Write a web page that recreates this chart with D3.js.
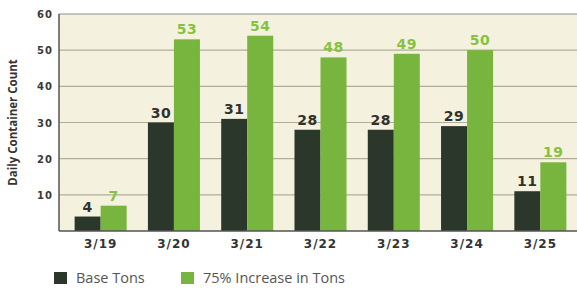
<!DOCTYPE html>
<html>
<head>
<meta charset="utf-8">
<script src="https://cdn.jsdelivr.net/npm/d3@7"></script>
<style>
  body { margin: 0; background: #fff; }
  text { font-family: "Open Sans", sans-serif; }
  .num { font-family: "DejaVu Sans", sans-serif; }
</style>
</head>
<body>
<script>
var days = ["3/19", "3/20", "3/21", "3/22", "3/23", "3/24", "3/25"];
var baseTons = [4, 30, 31, 28, 28, 29, 11];
var increasedTons = [7, 53, 54, 48, 49, 50, 19];
var yTicks = [10, 20, 30, 40, 50, 60];
var seriesNames = ["Base Tons", "75% Increase in Tons"];

var barColors = ["#2c372c", "#78b53e"];
var labelColors = ["#2f3330", "#86c23f"];

var W = 577, H = 289;
var plotLeft = 59, plotRight = 577, plotTop = 14, plotBottom = 231;

var svg = d3.select("body").append("svg")
    .attr("width", W).attr("height", H);

var y = d3.scaleLinear().domain([0, 60]).range([plotBottom, plotTop]);

var x0 = d3.scaleBand().domain(days)
    .range([64, plotRight])
    .paddingInner(0.29).paddingOuter(0.145);

var x1 = d3.scaleBand().domain([0, 1]).range([0, x0.bandwidth()]);

// plot background
svg.append("rect")
    .attr("x", plotLeft).attr("y", plotTop)
    .attr("width", plotRight - plotLeft).attr("height", plotBottom - plotTop)
    .attr("fill", "#f4f2de");

// gridlines
svg.append("g").selectAll("line").data(yTicks).enter().append("line")
    .attr("x1", plotLeft).attr("x2", plotRight)
    .attr("y1", function(d) { return y(d); })
    .attr("y2", function(d) { return y(d); })
    .attr("stroke", function(d) { return d == 60 ? "#8f8f88" : "#b0ad97"; })
    .attr("stroke-width", 1.2);

// y tick labels
svg.append("g").selectAll("text").data(yTicks).enter().append("text")
    .attr("class", "num")
    .attr("x", 53)
    .attr("y", function(d) { return y(d) + 4; })
    .attr("text-anchor", "end")
    .attr("font-size", 10).attr("font-weight", 700)
    .attr("letter-spacing", 1)
    .attr("fill", "#3a3a3a")
    .text(function(d) { return d; });

// y axis title
svg.append("text")
    .attr("transform", "translate(17," + ((plotTop + plotBottom) / 2) + ") rotate(-90)")
    .attr("text-anchor", "middle")
    .attr("font-size", 11.5).attr("font-weight", 700)
    .attr("fill", "#333")
    .text("Daily Container Count");

var rows = days.map(function(d, i) {
    return {day: d, values: [baseTons[i], increasedTons[i]]};
});

var groups = svg.append("g").selectAll("g").data(rows).enter().append("g")
    .attr("transform", function(d) { return "translate(" + x0(d.day) + ",0)"; });

groups.selectAll("rect").data(function(d) { return d.values; }).enter().append("rect")
    .attr("x", function(d, i) { return x1(i); })
    .attr("y", function(d) { return y(d); })
    .attr("width", x1.bandwidth())
    .attr("height", function(d) { return plotBottom - y(d); })
    .attr("fill", function(d, i) { return barColors[i]; });

groups.selectAll("text").data(function(d) { return d.values; }).enter().append("text")
    .attr("class", "num")
    .attr("x", function(d, i) { return x1(i) + x1.bandwidth() / 2; })
    .attr("y", function(d) { return y(d) - 5; })
    .attr("text-anchor", "middle")
    .attr("font-size", 14).attr("font-weight", 700)
    .attr("letter-spacing", 0.5)
    .attr("fill", function(d, i) { return labelColors[i]; })
    .text(function(d) { return d; });

// axes lines
svg.append("line")
    .attr("x1", plotLeft).attr("x2", plotLeft)
    .attr("y1", plotTop).attr("y2", plotBottom)
    .attr("stroke", "#555").attr("stroke-width", 1.5);
svg.append("line")
    .attr("x1", plotLeft).attr("x2", plotRight)
    .attr("y1", plotBottom).attr("y2", plotBottom)
    .attr("stroke", "#555").attr("stroke-width", 1.5);

// x labels
svg.append("g").selectAll("text").data(days).enter().append("text")
    .attr("class", "num")
    .attr("x", function(d) { return x0(d) + x0.bandwidth() / 2; })
    .attr("y", 248)
    .attr("text-anchor", "middle")
    .attr("font-size", 12).attr("font-weight", 700)
    .attr("letter-spacing", 1)
    .attr("fill", "#333")
    .text(function(d) { return d; });

// legend
var legendX = [54, 181];
var legend = svg.append("g").selectAll("g").data(seriesNames).enter().append("g")
    .attr("transform", function(d, i) { return "translate(" + legendX[i] + ",272)"; });
legend.append("rect")
    .attr("width", 13).attr("height", 12)
    .attr("fill", function(d, i) { return barColors[i]; });
legend.append("text")
    .attr("x", 22).attr("y", 11)
    .attr("font-size", 14.5)
    .attr("fill", "#555")
    .text(function(d) { return d; });
</script>
</body>
</html>
